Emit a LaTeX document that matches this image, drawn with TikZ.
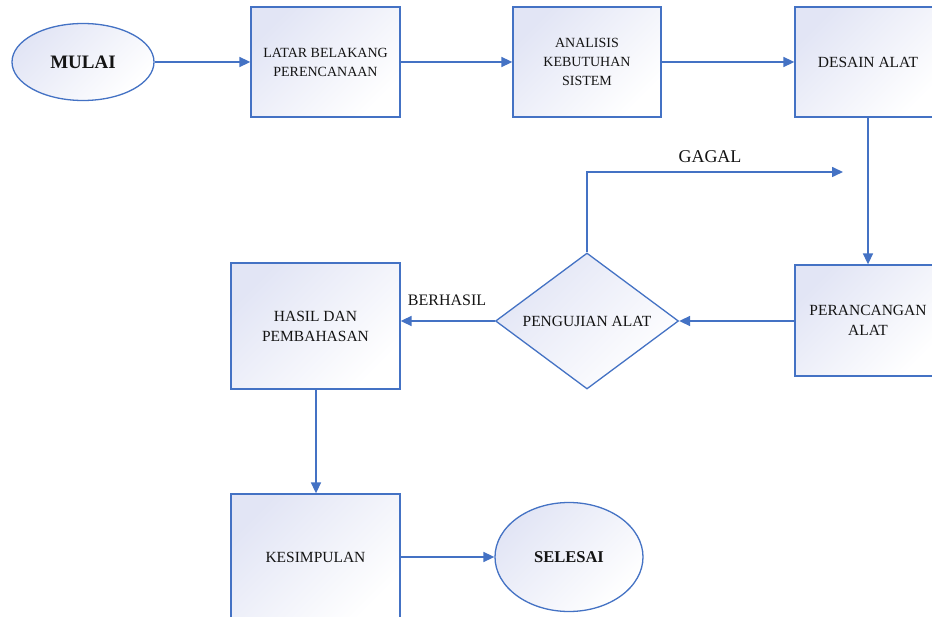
\documentclass[tikz,border=0pt]{standalone}
\usepackage{fontspec}
\setmainfont{Liberation Serif}
\usetikzlibrary{shapes.geometric,arrows.meta}
\definecolor{lineblue}{RGB}{68,114,196}
\definecolor{lav}{RGB}{226,229,245}
\definecolor{txtcol}{RGB}{20,20,20}
\tikzset{
  shadefill/.style={top color=lav, bottom color=white, shading angle=45},
  stepbox/.style={rectangle, draw=lineblue, line width=1.3pt, shadefill, inner sep=0pt, align=center, text=txtcol},
  termnode/.style={ellipse, draw=lineblue, line width=1.3pt, shadefill, inner sep=0pt, text=txtcol},
  decnode/.style={diamond, draw=lineblue, line width=1.3pt, shadefill, inner sep=0pt, aspect=1.35, text=txtcol},
  flow/.style={draw=lineblue, line width=1.6pt, -{Triangle[length=11pt,width=10pt]}},
  lbl/.style={text=txtcol, inner sep=0pt}
}
\begin{document}
\begin{tikzpicture}[x=1pt,y=-1pt]
\useasboundingbox (0,0) rectangle (932,617);
\clip (0,0) rectangle (932,617);
\fill[white] (0,0) rectangle (932,617);

\node[termnode, minimum width=142pt, minimum height=77pt, font=\rmfamily\bfseries\fontsize{19}{22}\selectfont] (mulai) at (83,62) {MULAI};
\node[stepbox, minimum width=149pt, minimum height=110pt, font=\rmfamily\fontsize{14}{19}\selectfont] (latar) at (325.5,62) {LATAR BELAKANG\\PERENCANAAN};
\node[stepbox, minimum width=148pt, minimum height=110pt, font=\rmfamily\fontsize{14}{19}\selectfont] (analisis) at (587,62) {ANALISIS\\KEBUTUHAN\\SISTEM};
\node[stepbox, minimum width=146pt, minimum height=110pt, font=\rmfamily\fontsize{15.5}{20}\selectfont] (desain) at (868,62) {DESAIN ALAT};
\node[stepbox, minimum width=146pt, minimum height=111pt, font=\rmfamily\fontsize{15.5}{20}\selectfont] (rancang) at (868,320.5) {PERANCANGAN\\ALAT};
\node[decnode, minimum width=183pt, minimum height=136pt, font=\rmfamily\fontsize{15.5}{20}\selectfont] (uji) at (587,321) {PENGUJIAN ALAT};
\node[stepbox, minimum width=169pt, minimum height=126pt, font=\rmfamily\fontsize{15.5}{20}\selectfont] (hasil) at (315.5,326) {HASIL DAN\\PEMBAHASAN};
\node[stepbox, minimum width=169pt, minimum height=126pt, font=\rmfamily\fontsize{15.5}{20}\selectfont] (simpul) at (315.5,557) {KESIMPULAN};
\node[termnode, minimum width=148pt, minimum height=109pt, font=\rmfamily\bfseries\fontsize{16.5}{20}\selectfont] (selesai) at (569,557) {SELESAI};

\coordinate (gagalend) at (843,172);

\draw[flow] (mulai.east) -- (latar.west);
\draw[flow] (latar.east) -- (analisis.west);
\draw[flow] (analisis.east) -- (desain.west);
\draw[flow] (desain.south) -- (rancang.north);
\draw[flow] (rancang.west |- uji.east) -- (uji.east);
\draw[flow] (uji.west) -- (uji.west -| hasil.east);
\draw[flow] (uji.north) |- (gagalend);
\draw[flow] ([xshift=0.5pt]hasil.south) -- ([xshift=0.5pt]simpul.north);
\draw[flow] (simpul.east |- selesai.west) -- (selesai.west);

\node[lbl, font=\rmfamily\fontsize{16}{19}\selectfont] (berhasil) at (447,300) {BERHASIL};
\node[lbl, font=\rmfamily\fontsize{18}{21}\selectfont] (gagal) at (710,157) {GAGAL};
\end{tikzpicture}
\end{document}
